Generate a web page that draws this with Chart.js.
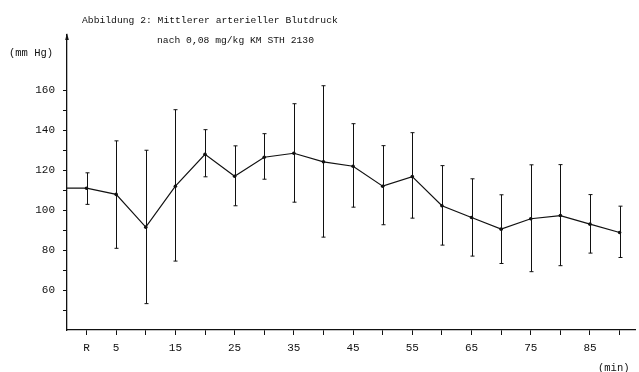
<!DOCTYPE html>
<html>
<head>
<meta charset="utf-8">
<script src="https://cdn.jsdelivr.net/npm/chart.js@4/dist/chart.umd.min.js"></script>
<style>
  html, body { margin: 0; padding: 0; background: #fff; }
  canvas { display: block; }
</style>
</head>
<body>
<canvas id="bpChart" width="639" height="372"></canvas>
<script>
// time points in minutes (0 = R, Ruhewert)
const minutes = [0, 5, 10, 15, 20, 25, 30, 35, 40, 45, 50, 55, 60, 65, 70, 75, 80, 85, 90];
// mean arterial pressure (mm Hg)
const meanBP = [111, 107.9, 91.5, 112, 128, 117, 126.5, 128.5, 124.2, 122, 112, 116.8, 102.2, 96.3, 90.5, 95.7, 97.3, 93, 88.8];
// upper and lower ends of the error bars
const upperBP = [118.7, 134.7, 130, 150.3, 140.3, 132.2, 138.3, 153.3, 162.3, 143.3, 132.3, 138.8, 122.3, 115.7, 107.7, 122.7, 122.8, 107.8, 102];
const lowerBP = [102.9, 80.9, 53.2, 74.5, 116.7, 102.2, 115.5, 104, 86.5, 101.5, 92.7, 96, 82.5, 77, 73.3, 69.2, 72.2, 78.5, 76.3];
// axis ticks
const xTickLabels = ['R', '5', '', '15', '', '25', '', '35', '', '45', '', '55', '', '65', '', '75', '', '85', ''];
const yTicks = [50, 60, 70, 80, 90, 100, 110, 120, 130, 140, 150, 160];
const yTickLabels = ['', '60', '', '80', '', '100', '', '120', '', '140', '', '160'];

const xMin = -3.3, xMax = 92.6;
const ink = '#111';
const monoFont = "'Liberation Mono', 'DejaVu Sans Mono', monospace";

// line starts at the y axis with the resting value
const points = [{ x: xMin, y: meanBP[0] }].concat(minutes.map((m, i) => ({ x: m, y: meanBP[i] })));
const radii = points.map((p, i) => i === 0 ? 0 : 1.8);

// error bars drawn through the chart's scales
const errorBars = {
    id: 'errorBars',
    afterDatasetsDraw(chart) {
        const ctx = chart.ctx;
        const xs = chart.scales.x, ys = chart.scales.y;
        ctx.save();
        ctx.strokeStyle = ink;
        ctx.lineWidth = 1;
        minutes.forEach((m, i) => {
            const px = Math.round(xs.getPixelForValue(m)) + 0.5;
            const top = ys.getPixelForValue(upperBP[i]);
            const bot = ys.getPixelForValue(lowerBP[i]);
            ctx.beginPath();
            ctx.moveTo(px, top);
            ctx.lineTo(px, bot);
            ctx.moveTo(px - 2, top);
            ctx.lineTo(px + 2, top);
            ctx.moveTo(px - 2, bot);
            ctx.lineTo(px + 2, bot);
            ctx.stroke();
        });
        ctx.restore();
    }
};

// captions, unit labels and arrow on the y axis
const captions = {
    id: 'captions',
    afterDraw(chart) {
        const ctx = chart.ctx;
        const area = chart.chartArea;
        ctx.save();
        ctx.fillStyle = ink;
        ctx.textBaseline = 'middle';
        ctx.font = '9.7px ' + monoFont;
        ctx.fillText('Abbildung 2: Mittlerer arterieller Blutdruck', 82, 20);
        ctx.fillText('nach 0,08 mg/kg KM STH 2130', 157, 40);
        ctx.font = '10.5px ' + monoFont;
        ctx.fillText('(mm Hg)', 9, 53);
        ctx.fillText('(min)', 598, 368);
        // arrow head
        const ax = area.left;
        ctx.beginPath();
        ctx.moveTo(ax, area.top - 2);
        ctx.lineTo(ax - 1.8, area.top + 5);
        ctx.lineTo(ax + 1.8, area.top + 5);
        ctx.closePath();
        ctx.fill();
        ctx.restore();
    }
};

document.addEventListener('DOMContentLoaded', function() {
    new Chart(document.getElementById('bpChart'), {
        type: 'line',
        data: {
            datasets: [{
                data: points,
                borderColor: ink,
                borderWidth: 1.2,
                backgroundColor: ink,
                pointRadius: radii,
                pointBorderWidth: 0,
                tension: 0
            }]
        },
        options: {
            responsive: false,
            animation: false,
            layout: { padding: { top: 35, right: 3, left: 0, bottom: 0 } },
            plugins: {
                legend: { display: false },
                tooltip: { enabled: false }
            },
            scales: {
                x: {
                    type: 'linear',
                    min: xMin,
                    max: xMax,
                    afterBuildTicks(scale) {
                        scale.ticks = minutes.map(v => ({ value: v }));
                    },
                    afterFit(scale) { scale.height = 42; },
                    ticks: {
                        autoSkip: false,
                        maxRotation: 0,
                        padding: 6,
                        color: ink,
                        font: { family: monoFont, size: 11 },
                        callback: (v) => {
                            const i = minutes.indexOf(v);
                            return i >= 0 ? xTickLabels[i] : '';
                        }
                    },
                    grid: {
                        drawOnChartArea: false,
                        drawTicks: true,
                        tickLength: 5,
                        color: ink,
                        lineWidth: 1
                    },
                    border: { display: true, color: ink, width: 1.3 }
                },
                y: {
                    min: 40,
                    max: 187.7,
                    afterBuildTicks(scale) {
                        scale.ticks = yTicks.map(v => ({ value: v }));
                    },
                    afterFit(scale) { scale.width = 67; },
                    ticks: {
                        autoSkip: false,
                        padding: 8,
                        color: ink,
                        font: { family: monoFont, size: 11 },
                        callback: (v) => {
                            const i = yTicks.indexOf(v);
                            return i >= 0 ? yTickLabels[i] : '';
                        }
                    },
                    grid: {
                        drawOnChartArea: false,
                        drawTicks: true,
                        tickLength: 4,
                        color: ink,
                        lineWidth: 1
                    },
                    border: { display: true, color: ink, width: 1.3 }
                }
            }
        },
        plugins: [errorBars, captions]
    });
});
</script>
</body>
</html>
